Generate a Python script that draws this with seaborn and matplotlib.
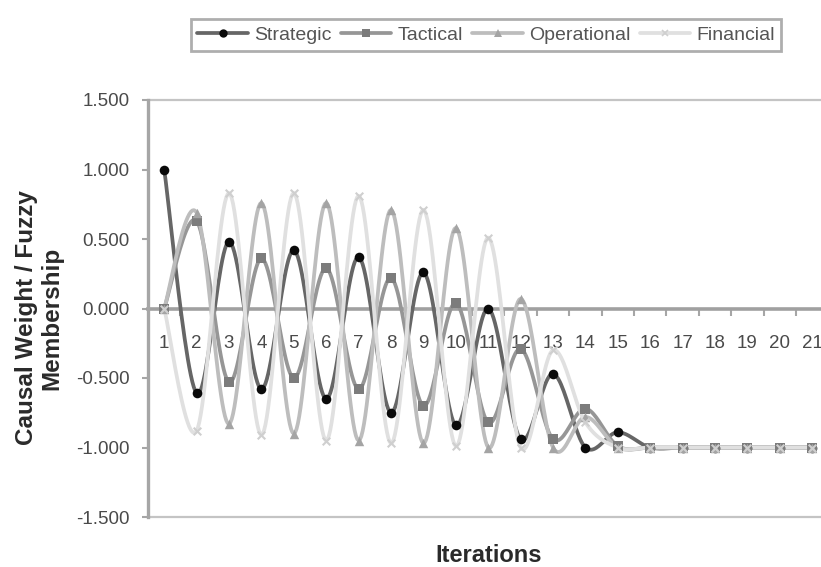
import numpy as np
import pandas as pd
import matplotlib
matplotlib.use("Agg")
import matplotlib.pyplot as plt
from matplotlib.lines import Line2D
import seaborn as sns

# Iteration index and the four concept series
iterations = list(range(1, 22))
strategic = [1.00, -0.61, 0.48, -0.58, 0.42, -0.65, 0.37, -0.75, 0.26, -0.84, 0.00,
             -0.94, -0.47, -1.00, -0.89, -1.00, -1.00, -1.00, -1.00, -1.00, -1.00]
tactical = [0.00, 0.63, -0.53, 0.36, -0.50, 0.29, -0.58, 0.22, -0.70, 0.04, -0.82,
            -0.29, -0.94, -0.72, -0.99, -1.00, -1.00, -1.00, -1.00, -1.00, -1.00]
operational = [0.00, 0.69, -0.83, 0.76, -0.90, 0.76, -0.95, 0.71, -0.97, 0.58, -1.00,
               0.07, -1.00, -0.78, -1.00, -1.00, -1.00, -1.00, -1.00, -1.00, -1.00]
financial = [0.00, -0.88, 0.83, -0.91, 0.83, -0.95, 0.81, -0.97, 0.71, -0.99, 0.51,
             -1.00, -0.30, -0.82, -1.00, -1.00, -1.00, -1.00, -1.00, -1.00, -1.00]
series_names = ["Strategic", "Tactical", "Operational", "Financial"]
y_ticks = [-1.5, -1.0, -0.5, 0.0, 0.5, 1.0, 1.5]

sns.set_style("white")
plt.rcParams["font.family"] = ["Liberation Sans", "DejaVu Sans"]


def smooth_curve(xs, ys, steps=24):
    """Cardinal (Catmull-Rom style) Bezier smoothing through every point."""
    xs = np.asarray(xs, float)
    ys = np.asarray(ys, float)
    n = len(xs)
    out_x, out_y = [], []
    t = np.linspace(0, 1, steps, endpoint=False)
    for i in range(n - 1):
        i0 = max(i - 1, 0)
        i3 = min(i + 2, n - 1)
        p0 = np.array([xs[i], ys[i]])
        p3 = np.array([xs[i + 1], ys[i + 1]])
        c1 = p0 + (p3 - np.array([xs[i0], ys[i0]])) / 6.0
        c2 = p3 - (np.array([xs[i3], ys[i3]]) - p0) / 6.0
        b = ((1 - t) ** 3)[:, None] * p0 + (3 * (1 - t) ** 2 * t)[:, None] * c1 \
            + (3 * (1 - t) * t ** 2)[:, None] * c2 + (t ** 3)[:, None] * p3
        out_x.extend(b[:, 0])
        out_y.extend(b[:, 1])
    out_x.append(xs[-1])
    out_y.append(ys[-1])
    return out_x, out_y


styles = {
    "Strategic":   dict(line="#666666", marker="o", mcolor="#0a0a0a", s=48),
    "Tactical":    dict(line="#969696", marker="s", mcolor="#7c7c7c", s=42),
    "Operational": dict(line="#bdbdbd", marker="^", mcolor="#a4a4a4", s=46),
    "Financial":   dict(line="#e0e0e0", marker="x", mcolor="#cfcfcf", s=30),
}
values = {"Strategic": strategic, "Tactical": tactical,
          "Operational": operational, "Financial": financial}

fig = plt.figure(figsize=(8.21, 5.67), dpi=100)
ax = fig.add_axes([148 / 821, 50 / 567, 1 - 148 / 821, 417 / 567])

# Smoothed lines first, in series order
for k, name in enumerate(series_names):
    st = styles[name]
    sx, sy = smooth_curve(iterations, values[name])
    curve = pd.DataFrame({"x": sx, "y": sy})
    sns.lineplot(data=curve, x="x", y="y", ax=ax, color=st["line"], linewidth=2.7,
                 sort=False, estimator=None, legend=False, zorder=2 + k * 0.1)

# Markers on top of all lines
for k, name in enumerate(series_names):
    st = styles[name]
    pts = pd.DataFrame({"x": iterations, "y": values[name]})
    lw = 1.5 if st["marker"] == "x" else 0
    sns.scatterplot(data=pts, x="x", y="y", ax=ax, marker=st["marker"], color=st["mcolor"],
                    s=st["s"], linewidth=lw, legend=False, zorder=3 + k * 0.1)

ax.set_xlim(0.5, 0.5 + 673 / 32.4)
ax.set_ylim(-1.5, 1.5)

# Bounding gridlines at the top and bottom of the value range
ax.axhline(1.5, color="#c4c4c4", linewidth=1.6, zorder=1, clip_on=False)
ax.axhline(-1.5, color="#c4c4c4", linewidth=1.6, zorder=1, clip_on=False)

for side in ("top", "right"):
    ax.spines[side].set_visible(False)
ax.spines["left"].set_color("#a6a6a6")
ax.spines["left"].set_linewidth(2.4)
ax.spines["bottom"].set_position(("data", 0))
ax.spines["bottom"].set_color("#a0a0a0")
ax.spines["bottom"].set_linewidth(2.6)
ax.spines["bottom"].set_zorder(1)

ax.set_yticks(y_ticks)
ax.set_yticklabels([f"{v:.3f}" for v in y_ticks])
ax.set_xticks(iterations)
ax.set_xticklabels([str(i) for i in iterations])
ax.set_xticks([i + 0.5 for i in iterations[:-1]], minor=True)

ax.tick_params(axis="y", which="major", direction="out", length=4, width=1.5,
               color="#a6a6a6", pad=9, labelsize=13.5, labelcolor="#4a4a4a", left=True)
ax.tick_params(axis="x", which="major", length=0, pad=19, labelsize=13.5,
               labelcolor="#4a4a4a", bottom=True)
ax.tick_params(axis="x", which="minor", direction="out", length=5, width=1.5,
               color="#a6a6a6", bottom=True)
ax.set_xlabel("")
ax.set_ylabel("")

fig.text(39 / 821, 1 - 318 / 567, "Causal Weight / Fuzzy\nMembership", rotation=90,
         ha="center", va="center", multialignment="center", fontsize=17.5,
         fontweight="bold", color="#2a2a2a", linespacing=1.15)
fig.text(489 / 821, 1 - 555 / 567, "Iterations", ha="center", va="center",
         fontsize=17, fontweight="bold", color="#2a2a2a")

handles = []
for name in series_names:
    st = styles[name]
    handles.append(Line2D([0], [0], color=st["line"], linewidth=2.7, marker=st["marker"],
                          markersize=6 if st["marker"] != "x" else 5,
                          markerfacecolor=st["mcolor"], markeredgecolor=st["mcolor"],
                          markeredgewidth=1.2 if st["marker"] == "x" else 0))
leg = fig.legend(handles, series_names, loc="center", bbox_to_anchor=(486 / 821, 1 - 35 / 567),
                 ncol=4, frameon=True, fancybox=False, fontsize=14, handlelength=2.6,
                 handletextpad=0.3, columnspacing=0.5, borderpad=0.35, borderaxespad=0)
leg.get_frame().set_edgecolor("#9a9a9a")
leg.get_frame().set_linewidth(2.0)
for txt in leg.get_texts():
    txt.set_color("#555555")

fig.savefig("out.png", dpi=100)
